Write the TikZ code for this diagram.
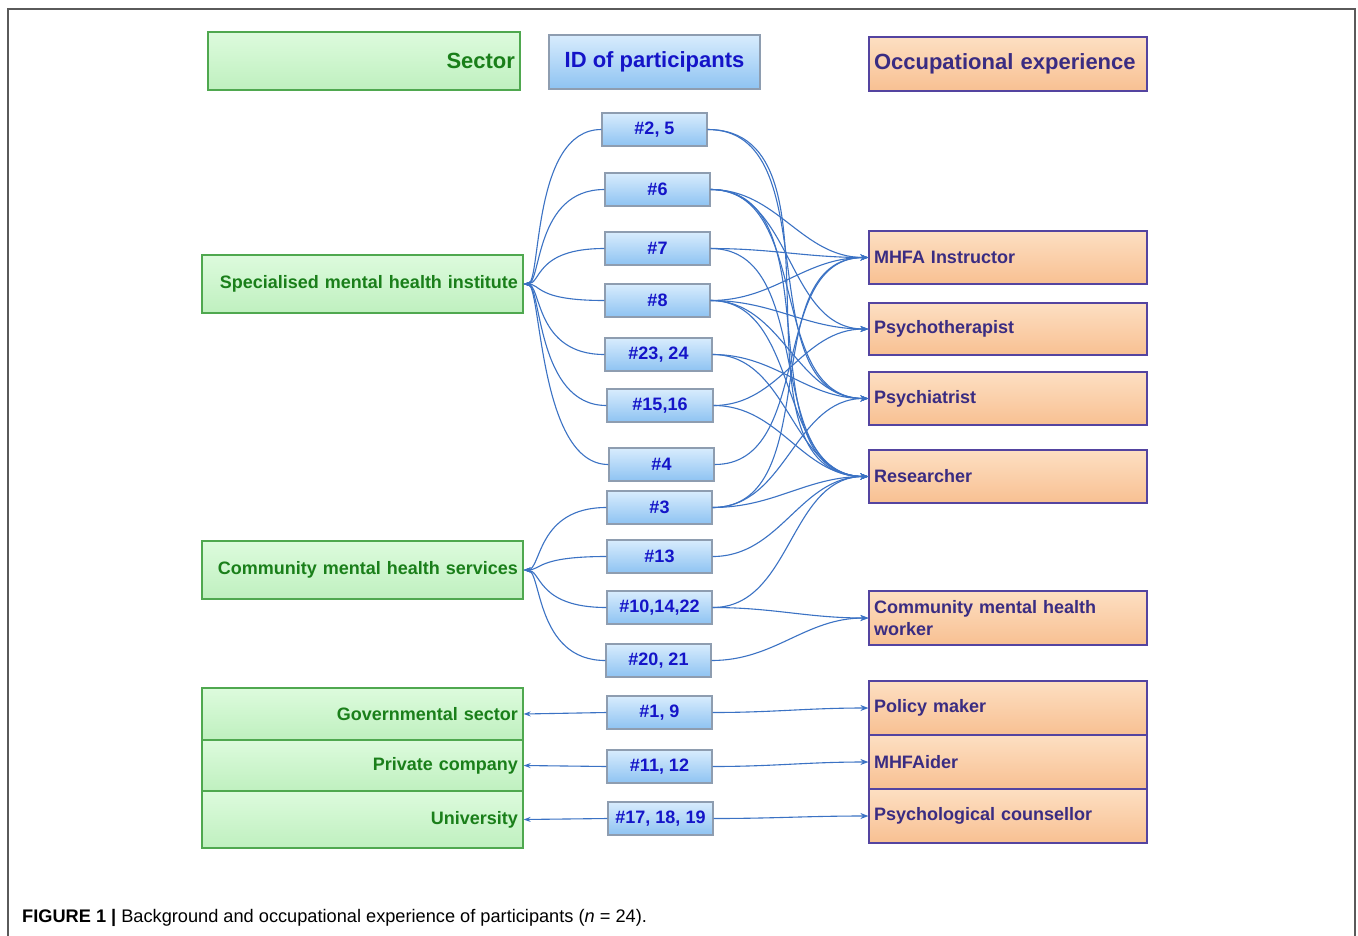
\documentclass[tikz,border=0pt]{standalone}
\usepackage{fontspec}
\setmainfont{Liberation Sans}
\usetikzlibrary{arrows.meta}
\definecolor{frameC}{HTML}{5A5A5A}
\definecolor{secBorder}{HTML}{4FA84F}
\definecolor{secTop}{HTML}{DDFBDD}
\definecolor{secBot}{HTML}{BFF0BF}
\definecolor{secText}{HTML}{1A7F1A}
\definecolor{idBorder}{HTML}{8E9DB0}
\definecolor{idTop}{HTML}{D8ECFD}
\definecolor{idBot}{HTML}{8EC3F2}
\definecolor{idText}{HTML}{1414C8}
\definecolor{occBorder}{HTML}{5444A0}
\definecolor{occTop}{HTML}{FDDFC2}
\definecolor{occBot}{HTML}{F8C092}
\definecolor{occText}{HTML}{3A2C82}
\definecolor{edgeC}{HTML}{3B72C4}
\begin{document}
\begin{tikzpicture}[x=1pt,y=-1pt,
  secbox/.style={draw=secBorder, line width=1.2pt, top color=secTop, bottom color=secBot,
    minimum width=321pt, text width=311pt, align=right, inner xsep=5pt, inner ysep=0pt,
    font=\bfseries\fontsize{18}{21}\selectfont, text=secText},
  idbox/.style={draw=idBorder, line width=1.2pt, top color=idTop, bottom color=idBot,
    minimum width=105pt, minimum height=33pt, inner sep=0pt,
    font=\bfseries\fontsize{18}{21}\selectfont, text=idText},
  occbox/.style={draw=occBorder, line width=1.2pt, top color=occTop, bottom color=occBot,
    minimum width=278pt, text width=268pt, align=left, inner xsep=5pt, inner ysep=0pt,
    font=\bfseries\fontsize{18}{21}\selectfont, text=occText},
  sc/.style={draw=edgeC, line width=1.1pt, {Stealth[length=7pt,width=5pt]}-},
  oc/.style={draw=edgeC, line width=1.1pt, -{Stealth[length=8pt,width=6pt]}},
]
\useasboundingbox (0,0) rectangle (1358,935);
\fill[white] (0,0) rectangle (1358,935);
\draw[frameC, line width=2pt] (8,940) -- (8,9) -- (1355,9) -- (1355,940);

% headers
\node[secbox, minimum width=312pt, text width=302pt, minimum height=58pt,
      font=\bfseries\fontsize{22}{25}\selectfont] (hsec) at (364,61) {Sector};
\node[idbox, minimum width=211pt, minimum height=54pt,
      font=\bfseries\fontsize{22}{25}\selectfont] (hid) at (654.5,62) {ID of participants};
\node[occbox, minimum height=54pt,
      font=\bfseries\fontsize{22}{25}\selectfont] (hocc) at (1008,64) {Occupational experience};

% sectors
\node[secbox, minimum height=58pt] (spec) at (362.5,284) {Specialised mental health institute};
\node[secbox, minimum height=58pt] (comm) at (362.5,570) {Community mental health services};
\node[secbox, minimum height=52pt] (gov) at (362.5,714) {Governmental sector};
\node[secbox, minimum height=51pt] (priv) at (362.5,765.5) {Private company};
\node[secbox, minimum height=57pt] (uni) at (362.5,819.5) {University};

% IDs
\node[idbox] (i25) at (654.5,129.5) {\#2, 5};
\node[idbox] (i6) at (657.5,189.5) {\#6};
\node[idbox] (i7) at (657.5,248.5) {\#7};
\node[idbox] (i8) at (657.5,300.5) {\#8};
\node[idbox, minimum width=107pt] (i2324) at (658.5,354.5) {\#23, 24};
\node[idbox, minimum width=106pt] (i1516) at (660,405.5) {\#15,16};
\node[idbox] (i4) at (661.5,464.5) {\#4};
\node[idbox] (i3) at (659.5,507.5) {\#3};
\node[idbox] (i13) at (659.5,556.5) {\#13};
\node[idbox] (i101422) at (659.5,607.5) {\#10,14,22};
\node[idbox] (i2021) at (658.5,660.5) {\#20, 21};
\node[idbox] (i19) at (659.5,712.5) {\#1, 9};
\node[idbox] (i1112) at (659.5,766.5) {\#11, 12};
\node[idbox] (i171819) at (660.5,818.5) {\#17, 18, 19};

% occupations
\node[occbox, minimum height=53pt] (mhfa) at (1008,257.5) {MHFA Instructor};
\node[occbox, minimum height=52pt] (ptr) at (1008,329) {Psychotherapist};
\node[occbox, minimum height=53pt] (pst) at (1008,398.5) {Psychiatrist};
\node[occbox, minimum height=53pt] (res) at (1008,476.5) {Researcher};
\node[occbox, minimum height=54pt, font=\bfseries\fontsize{18}{22}\selectfont] (cmhw) at (1008,618) {Community mental health\\worker};
\node[occbox, minimum height=54pt] (pol) at (1008,708) {Policy maker};
\node[occbox, minimum height=54pt] (aid) at (1008,762) {MHFAider};
\node[occbox, minimum height=54pt] (pco) at (1008,816) {Psychological counsellor};

% sector <- ID
\foreach \n in {i25,i6,i7,i8,i2324,i1516,i4}
  \draw[sc] (spec.east) .. controls +(18,0) and +(-70,0) .. (\n.west);
\foreach \n in {i3,i13,i101422,i2021}
  \draw[sc] (comm.east) .. controls +(18,0) and +(-70,0) .. (\n.west);
\draw[sc] (gov.east) -- (i19.west);
\draw[sc] (priv.east) -- (i1112.west);
\draw[sc] (uni.east) -- (i171819.west);

% ID -> occupation
\foreach \a/\b in {i25/pst, i25/res,
                   i6/mhfa, i6/ptr, i6/pst, i6/res,
                   i7/mhfa, i7/res,
                   i8/mhfa, i8/ptr, i8/pst, i8/res,
                   i2324/pst, i2324/res,
                   i1516/ptr, i1516/res,
                   i4/mhfa,
                   i3/mhfa, i3/pst, i3/res,
                   i13/res,
                   i101422/res, i101422/cmhw,
                   i2021/cmhw,
                   i19/pol, i1112/aid, i171819/pco}
  \draw[oc] (\a.east) to[out=0,in=180] (\b.west);

% caption
\node[anchor=base west, inner sep=0pt, font=\fontsize{18.2}{21}\selectfont] (cap) at (22,922)
  {\textbf{FIGURE 1 |} Background and occupational experience of participants (\textit{n} = 24).};
\end{tikzpicture}
\end{document}
